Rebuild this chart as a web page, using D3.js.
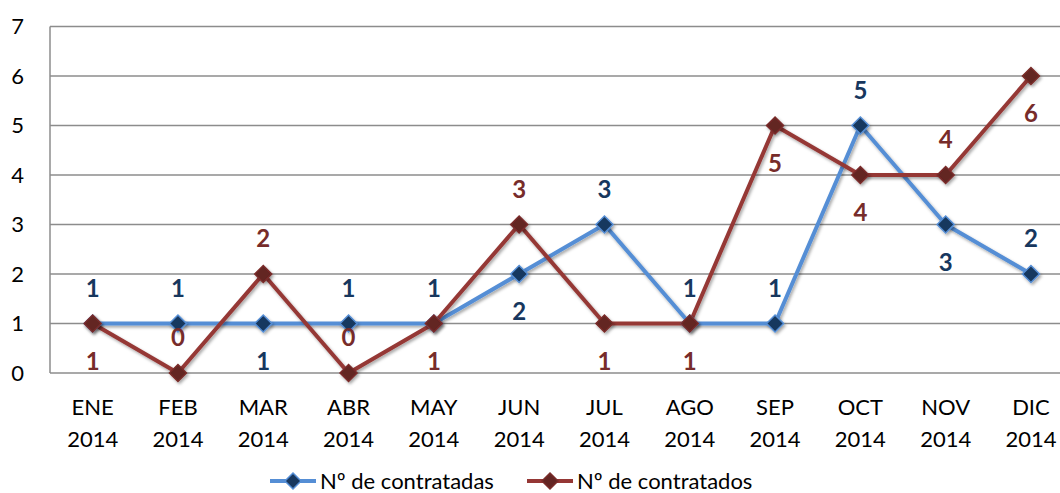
<!DOCTYPE html>
<html>
<head>
<meta charset="utf-8">
<script src="https://cdn.jsdelivr.net/npm/d3@7"></script>
<style>
  body { margin: 0; background: #fff; }
  svg { display: block; font-family: Lato, "Open Sans", sans-serif; }
</style>
</head>
<body>
<div id="MyChart"></div>
<script>
var months = ["ENE","FEB","MAR","ABR","MAY","JUN","JUL","AGO","SEP","OCT","NOV","DIC"];
var years = ["2014","2014","2014","2014","2014","2014","2014","2014","2014","2014","2014","2014"];
var contratadas = [1,1,1,1,1,2,3,1,1,5,3,2];
var contratados = [1,0,2,0,1,3,1,1,5,4,4,6];
var yTicks = [0,1,2,3,4,5,6,7];
// where each data label sits: "a" above the point, "b" below
var posContratadas = ["a","a","b","a","a","b","a","a","a","a","b","a"];
var posContratados = ["b","a","a","a","b","a","b","b","b","b","a","b"];

var W = 1060, H = 493;
var margin = {top: 26.5, left: 50};

var svg = d3.select("#MyChart").append("svg")
    .attr("width", W)
    .attr("height", H);

var xScale = d3.scaleBand()
    .domain(months)
    .range([margin.left, margin.left + 85.3 * 12]);

var yScale = d3.scaleLinear()
    .domain([0, 7])
    .range([373, margin.top]);

function cx(i) { return xScale(months[i]) + xScale.bandwidth() / 2; }

// gridlines
svg.append("g").selectAll("line")
    .data(yTicks)
    .enter().append("line")
    .attr("x1", margin.left)
    .attr("x2", W)
    .attr("y1", function(d) { return yScale(d); })
    .attr("y2", function(d) { return yScale(d); })
    .style("stroke", "#8c8c8c")
    .style("stroke-width", 1.5);

// left axis line
svg.append("line")
    .attr("x1", margin.left).attr("x2", margin.left)
    .attr("y1", yScale(7)).attr("y2", yScale(0))
    .style("stroke", "#8c8c8c")
    .style("stroke-width", 1.5);

// y tick labels
svg.append("g").selectAll("text")
    .data(yTicks)
    .enter().append("text")
    .attr("x", 24)
    .attr("y", function(d) { return yScale(d); })
    .attr("dy", ".35em")
    .attr("text-anchor", "end")
    .style("font-size", "22px")
    .style("fill", "#000")
    .text(function(d) { return d; });

// x tick labels
var xt = svg.append("g").selectAll("text")
    .data(months)
    .enter().append("text")
    .attr("text-anchor", "middle")
    .style("font-size", "22px")
    .style("fill", "#000");
xt.append("tspan")
    .attr("x", function(d, i) { return cx(i); })
    .attr("y", 415)
    .text(function(d) { return d; });
xt.append("tspan")
    .attr("x", function(d, i) { return cx(i); })
    .attr("y", 447)
    .text(function(d, i) { return years[i]; });

var line = d3.line()
    .x(function(d, i) { return cx(i); })
    .y(function(d) { return yScale(d); });

var defs = svg.append("defs");
var f = defs.append("filter").attr("id", "shadow").attr("x", "-50%").attr("y", "-50%").attr("width", "200%").attr("height", "200%");
f.append("feDropShadow").attr("dx", 1.5).attr("dy", 2).attr("stdDeviation", 1.5).attr("flood-color", "#000").attr("flood-opacity", 0.35);

var series = [
  {values: contratadas, pos: posContratadas, line: "#558ed5", marker: "#17375e", mstroke: "#558ed5", label: "#17375e", name: "Nº de contratadas"},
  {values: contratados, pos: posContratados, line: "#953735", marker: "#632523", mstroke: "#7a2c2a", label: "#772c2a", name: "Nº de contratados"}
];

function diamondPath(s) {
  return "M0," + (-s) + "L" + s + ",0L0," + s + "L" + (-s) + ",0Z";
}

series.forEach(function(s) {
  svg.append("path")
      .datum(s.values)
      .attr("d", line)
      .style("fill", "none")
      .style("stroke", s.line)
      .style("stroke-width", 4)
      .style("stroke-linejoin", "round")
      .attr("filter", "url(#shadow)");
});

series.forEach(function(s) {
  svg.append("g").selectAll("path")
      .data(s.values)
      .enter().append("path")
      .attr("d", diamondPath(8.5))
      .attr("transform", function(d, i) { return "translate(" + cx(i) + "," + yScale(d) + ")"; })
      .style("fill", s.marker)
      .style("stroke", s.mstroke)
      .style("stroke-width", 1.5)
      .attr("filter", "url(#shadow)");
});

series.forEach(function(s) {
  svg.append("g").selectAll("text")
      .data(s.values)
      .enter().append("text")
      .attr("x", function(d, i) { return cx(i); })
      .attr("y", function(d, i) { return yScale(d) + (s.pos[i] === "a" ? -35 : 38); })
      .attr("dy", ".35em")
      .attr("text-anchor", "middle")
      .style("font-size", "24px")
      .style("font-weight", "bold")
      .style("fill", s.label)
      .text(function(d) { return d; });
});

// legend
var legX = [270, 527];
series.forEach(function(s, i) {
  var g = svg.append("g").attr("transform", "translate(" + legX[i] + ",481)");
  g.append("line")
      .attr("x1", 0).attr("x2", 46)
      .style("stroke", s.line)
      .style("stroke-width", 4);
  g.append("path")
      .attr("d", diamondPath(8))
      .attr("transform", "translate(23,0)")
      .style("fill", s.marker)
      .style("stroke", s.mstroke)
      .style("stroke-width", 1.5);
  g.append("text")
      .attr("x", 50)
      .attr("dy", ".35em")
      .style("font-size", "22px")
      .style("fill", "#000")
      .text(s.name);
});
</script>
</body>
</html>
